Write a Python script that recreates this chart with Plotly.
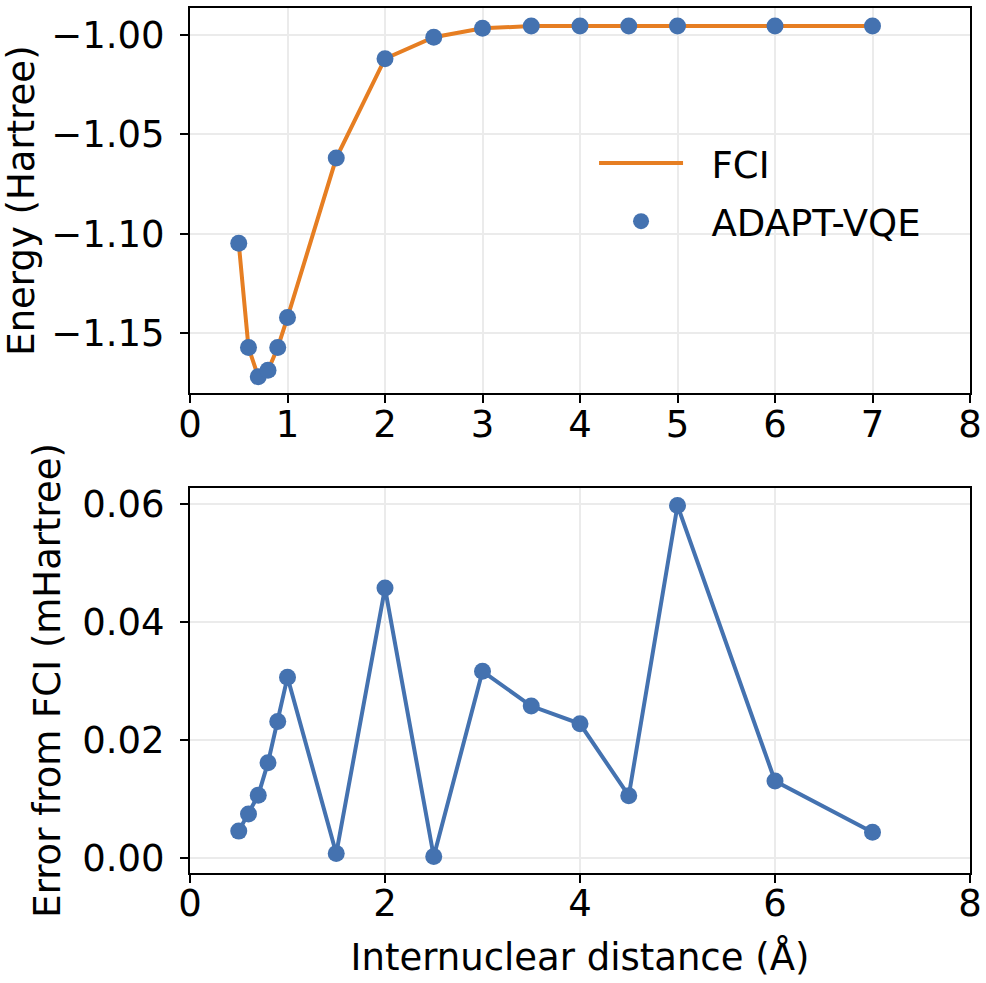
import plotly.graph_objects as go
from plotly.subplots import make_subplots

# Bond lengths (Angstrom)
distance = [0.5, 0.6, 0.7, 0.8, 0.9, 1.0, 1.5, 2.0, 2.5, 3.0, 3.5, 4.0, 4.5, 5.0, 6.0, 7.0]

# Energies (Hartree)
fci_energy = [-1.1049, -1.1573, -1.1720, -1.1688, -1.1573, -1.1422, -1.0620, -1.0120,
              -1.0012, -0.9967, -0.9956, -0.9956, -0.9956, -0.9956, -0.9956, -0.9956]
adapt_energy = [-1.1049, -1.1573, -1.1720, -1.1688, -1.1573, -1.1422, -1.0620, -1.0120,
                -1.0012, -0.9967, -0.9955, -0.9956, -0.9956, -0.9956, -0.9956, -0.9956]

# Error from FCI (mHartree), bottom panel
error_mha = [0.0046, 0.0075, 0.0107, 0.0162, 0.0232, 0.0307, 0.0008, 0.0458,
             0.0003, 0.0317, 0.0258, 0.0228, 0.0106, 0.0598, 0.0131, 0.0044]

orange = "#E67E22"
blue = "#4472B0"
font_family = "DejaVu Sans"
fs = 37
nb = "\u00a0\u00a0"  # small gap between legend symbol and text

fig = make_subplots(rows=2, cols=1)

fig.add_trace(go.Scatter(x=distance, y=fci_energy, mode="lines", name=nb + "FCI",
                         legendgroup="a", line=dict(color=orange, width=4)), row=1, col=1)
fig.add_trace(go.Scatter(x=distance, y=adapt_energy, mode="markers", name=nb + "ADAPT-VQE",
                         legendgroup="b", marker=dict(color=blue, size=17)), row=1, col=1)
fig.add_trace(go.Scatter(x=distance, y=error_mha, mode="lines+markers", showlegend=False,
                         line=dict(color=blue, width=4), marker=dict(color=blue, size=17)),
              row=2, col=1)

axis_style = dict(showline=True, mirror=True, linecolor="black", linewidth=2,
                  ticks="outside", ticklen=8, tickwidth=2, tickcolor="black",
                  showgrid=True, gridcolor="#EBEBEB", gridwidth=2, zeroline=False,
                  tickfont=dict(family=font_family, size=fs, color="black"))

fig.update_xaxes(axis_style, ticklabelstandoff=-11, ticklabeloverflow="allow")
fig.update_yaxes(axis_style, ticklabelstandoff=8)

title_font = dict(family=font_family, size=fs, color="black")
fig.update_xaxes(range=[0, 8], dtick=1, tick0=0, domain=[0, 1], row=1, col=1)
fig.update_xaxes(range=[0, 8], dtick=2, tick0=0, domain=[0, 1], row=2, col=1,
                 title=dict(text="Internuclear distance (Å)", standoff=20, font=title_font))
fig.update_yaxes(range=[-1.1803, -0.9865], tickvals=[-1.15, -1.10, -1.05, -1.00],
                 tickformat=".2f", domain=[0.5547, 1.0], row=1, col=1,
                 title=dict(text="Energy (Hartree)", standoff=14, font=title_font))
fig.update_yaxes(range=[-0.0025, 0.0628], tickvals=[0.0, 0.02, 0.04, 0.06],
                 tickformat=".2f", domain=[0.0, 0.4453], row=2, col=1,
                 title=dict(text="Error from FCI (mHartree)", standoff=10, font=title_font))

fig.update_layout(
    width=986, height=983,
    margin=dict(l=190, r=13, t=4, b=110),
    plot_bgcolor="white", paper_bgcolor="white",
    font=dict(family=font_family, size=fs, color="black"),
    legend=dict(x=0.518, y=0.856, xanchor="left", yanchor="top", itemwidth=84,
                tracegroupgap=7, bgcolor="rgba(0,0,0,0)",
                font=dict(family=font_family, size=fs)),
)

# page margin off so the figure fills the window exactly
fig.write_html("out.html", config={"displayModeBar": False},
               post_script="document.body.style.margin='0';document.body.style.overflow='hidden';")
